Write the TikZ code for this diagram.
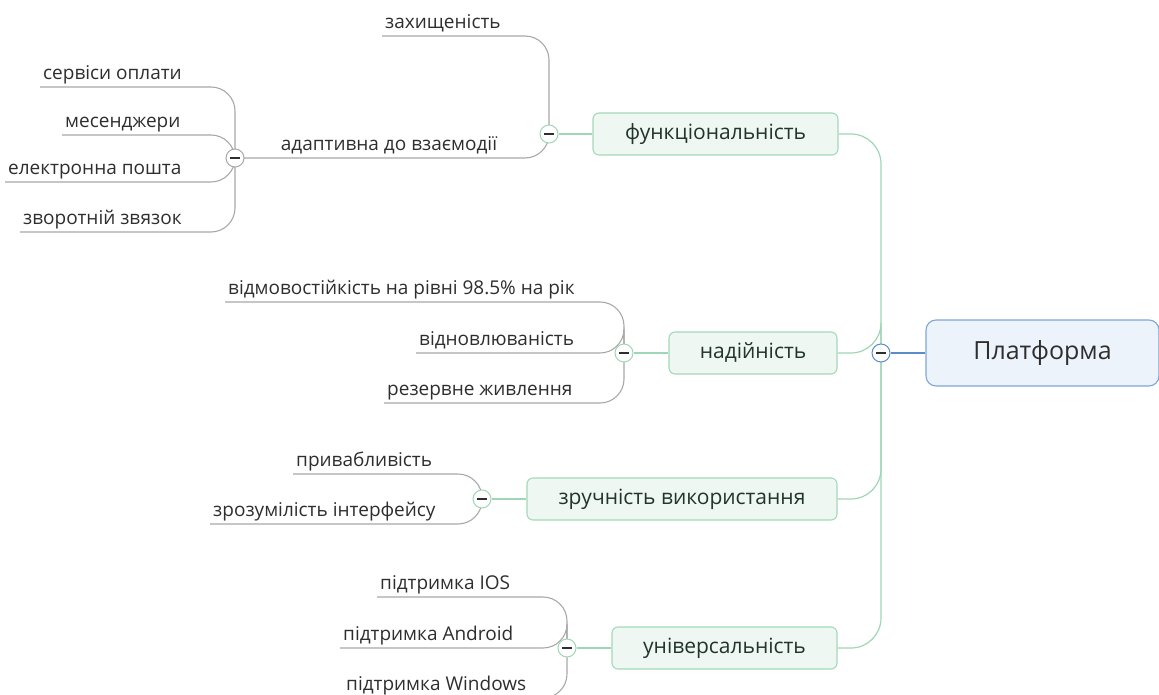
\documentclass[tikz,border=0pt]{standalone}
\usepackage{fontspec}
\setmainfont{Open Sans}
\usetikzlibrary{backgrounds}

\definecolor{rootblue}{HTML}{7FA6D6}
\definecolor{rootfill}{HTML}{EDF3FB}
\definecolor{blueline}{HTML}{5A8CC8}
\definecolor{boxgreen}{HTML}{A4D9B9}
\definecolor{boxfill}{HTML}{EEF7F1}
\definecolor{greenline}{HTML}{9FD6B5}
\definecolor{greyline}{HTML}{A8A8A8}
\definecolor{textdark}{HTML}{2E2E2E}
\definecolor{topictext}{HTML}{22352A}

\tikzset{
  rootbox/.style={draw=rootblue, fill=rootfill, line width=1.1pt, rounded corners=10pt,
    minimum width=233pt, minimum height=66pt, text=textdark, font=\fontsize{25}{30}\selectfont},
  topicbox/.style={draw=boxgreen, fill=boxfill, line width=1.1pt, rounded corners=6pt,
    minimum height=42pt, text=topictext, font=\fontsize{21}{25}\selectfont},
  leaf/.style={anchor=south west, inner xsep=3pt, inner ysep=2pt, text depth=5pt,
    text=textdark, font=\fontsize{19}{23}\selectfont},
  toggle/.style={circle, draw=#1, fill=white, line width=1pt, minimum size=18pt, inner sep=0pt,
    path picture={\draw[line width=1.4pt, textdark]
      ([xshift=-5pt]path picture bounding box.center) --
      ([xshift=5pt]path picture bounding box.center);}},
  trunk/.style={draw=greenline, line width=1.2pt, rounded corners=30pt},
  twig/.style={draw=greyline, line width=1.1pt, rounded corners=24pt},
}

\begin{document}
\begin{tikzpicture}[x=1pt, y=-1pt]
\useasboundingbox (0,0) rectangle (1159,695);

% root and main branches
\node[rootbox] (root) at (1042.5,353) {Платформа};
\node[toggle=blueline] (rtog) at (881,353) {};
\node[topicbox, minimum width=245pt] (func) at (715.5,134) {функціональність};
\node[topicbox, minimum width=168pt] (reliab) at (753,353) {надійність};
\node[topicbox, minimum width=310pt] (usab) at (682,499) {зручність використання};
\node[topicbox, minimum width=225pt] (univ) at (724.5,648) {універсальність};
\node[toggle=greenline] (ftog) at (549,134) {};
\node[toggle=greenline] (rltog) at (624,353) {};
\node[toggle=greenline] (utog) at (482,499) {};
\node[toggle=greenline] (vtog) at (567,648) {};

% leaves
\node[leaf] (safe) at (382,36) {захищеність};
\node[leaf, anchor=south] (adapt) at (389,158) {адаптивна до взаємодії};
\node[toggle=greyline] (atog) at (235,158) {};
\foreach \x/\y/\t/\n in {40/87/сервіси оплати/pay, 62/135/месенджери/msg,
    5/182/електронна пошта/mail, 20/232/зворотній звязок/back}
  \node[leaf] (\n) at (\x,\y) {\t};
\foreach \x/\y/\t/\n in {225/302/відмовостійкість на рівні 98.5\% на рік/fail,
    416/353/відновлюваність/recov, 384/403/резервне живлення/power}
  \node[leaf] (\n) at (\x,\y) {\t};
\foreach \x/\y/\t/\n in {293/474/привабливість/attr, 210/524/зрозумілість інтерфейсу/clear}
  \node[leaf] (\n) at (\x,\y) {\t};
\foreach \x/\y/\t/\n in {377/597/підтримка IOS/ios, 340/648/підтримка Android/andr,
    343/698/підтримка Windows/win}
  \node[leaf] (\n) at (\x,\y) {\t};

% connectors
\begin{scope}[on background layer]
\draw[blueline, line width=1.2pt] (rtog) -- (root);
\foreach \n in {func,reliab,usab,univ}
  \draw[trunk] (\n.east) -- (\n.east -| rtog) -- (rtog.center);
\draw[greenline, line width=1.2pt] (ftog) -- (func);
\draw[greenline, line width=1.2pt] (rltog) -- (reliab);
\draw[greenline, line width=1.2pt] (utog) -- (usab);
\draw[greenline, line width=1.2pt] (vtog) -- (univ);
\draw[twig] (safe.south west) -- (safe.south west -| ftog) -- (ftog.center);
\draw[twig] (atog.center) -- (atog.center -| ftog) -- (ftog.center);
\foreach \n in {pay,msg,mail,back}
  \draw[twig] (\n.south west) -- (\n.south west -| atog) -- (atog.center);
\foreach \n in {fail,recov,power}
  \draw[twig] (\n.south west) -- (\n.south west -| rltog) -- (rltog.center);
\foreach \n in {attr,clear}
  \draw[twig] (\n.south west) -- (\n.south west -| utog) -- (utog.center);
\foreach \n in {ios,andr,win}
  \draw[twig] (\n.south west) -- (\n.south west -| vtog) -- (vtog.center);
\end{scope}
\end{tikzpicture}
\end{document}
